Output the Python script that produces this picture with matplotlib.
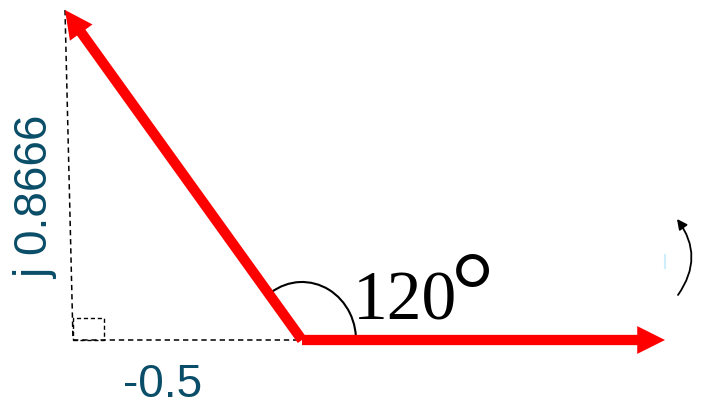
import numpy as np
import matplotlib
matplotlib.use("Agg")
import matplotlib.pyplot as plt
from matplotlib.patches import FancyArrowPatch, Arc, Rectangle

# phasor tips (drawing units, origin at the phasor base)
PHASOR_X = [363, -237]
PHASOR_Y = [0, 330]
ANGLE_DEG = 120
REAL_LABEL = "-0.5"
IMAG_LABEL = "j 0.8666"

RED = "#ff0000"
TEAL = "#0a4d68"

fig = plt.figure(figsize=(7.06, 4.16), dpi=100)
ax = fig.add_axes([0, 0, 1, 1])
ax.set_xlim(-302, 404)
ax.set_ylim(-76, 340)
ax.axis("off")

# projection lines (dashed)
foot_x = PHASOR_X[1] + 8
ax.plot([PHASOR_X[1], foot_x], [PHASOR_Y[1], 0], ls=(0, (3.5, 2.5)), color="black", lw=1.1)
ax.plot([foot_x, 0], [0, 0], ls=(0, (3.5, 2.5)), color="black", lw=1.1)
ax.add_patch(Rectangle((foot_x, 0), 31, 22, fill=False, ls=(0, (3, 2)),
                       ec="black", lw=1.0))

# angle arc
ax.add_patch(Arc((0, 0), 108, 116, theta1=-5, theta2=123, color="black", lw=1.5))

# phasors
style = "simple,head_length=20,head_width=20,tail_width=7.4"
for px, py in zip(PHASOR_X, PHASOR_Y):
    ax.add_patch(FancyArrowPatch((0, 0), (px, py), arrowstyle=style,
                                 color=RED, lw=0, shrinkA=0, shrinkB=0,
                                 mutation_scale=1, zorder=3))

# rotation direction
ax.add_patch(FancyArrowPatch((376, 45), (375, 121), connectionstyle="arc3,rad=0.36",
                             arrowstyle="-|>,head_length=6,head_width=3",
                             color="black", lw=1.3, shrinkA=0, shrinkB=0,
                             mutation_scale=1))
ax.plot([363, 363], [72, 85], color="#cdeefa", lw=1.5)

# labels
ax.text(51, 20, str(ANGLE_DEG), fontsize=50, family="Liberation Serif",
        ha="left", va="baseline", color="black")
ax.text(171, 40, "°", fontsize=78, family="Liberation Serif",
        ha="center", va="center", color="black")
ax.text(-139, -45, REAL_LABEL, fontsize=33, family="Liberation Sans",
        ha="center", va="center", color=TEAL)
ax.text(-266, 143, IMAG_LABEL, fontsize=33, family="Liberation Sans",
        rotation=90, ha="center", va="center", color=TEAL)

fig.savefig("out.png", dpi=100, facecolor="white")
